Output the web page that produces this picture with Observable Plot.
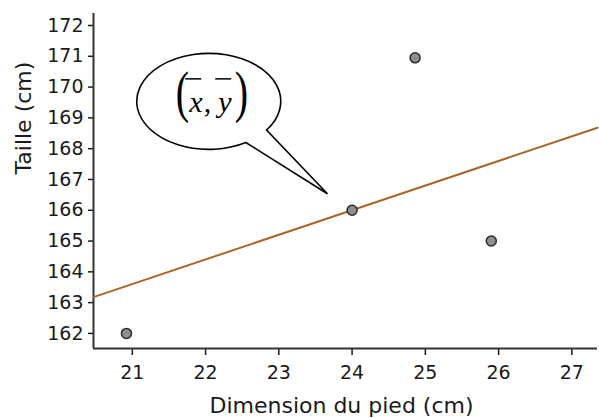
<!DOCTYPE html>
<html><head><meta charset="utf-8">
<script src="https://cdn.jsdelivr.net/npm/d3@7"></script>
<script src="https://cdn.jsdelivr.net/npm/@observablehq/plot@0.6"></script>
<style>
html,body{margin:0;padding:0;background:#fff;}
</style>
</head><body><div id="chart"></div>
<script>
// Data
const pied = [20.92, 24.0, 24.86, 25.9];          // Dimension du pied (cm)
const taille = [162, 166, 170.95, 165];            // Taille (cm)
const xTicks = [21, 22, 23, 24, 25, 26, 27];
const yTicks = [162, 163, 164, 165, 166, 167, 168, 169, 170, 171, 172];
const xDomain = [20.47, 27.35];
const yDomain = [161.51, 172.39];
const lineX = [20.47, 27.35];                      // droite d'ajustement (endpoints)
const lineY = [163.18, 168.68];
const bubbleCenter = {x: 22.05, y: 169.52};
const bubbleTip = {x: 23.67, y: 166.52};
const xTitle = "Dimension du pied (cm)";
const yTitle = "Taille (cm)";

const points = pied.map((x, i) => ({x, y: taille[i]}));
const fitLine = lineX.map((x, i) => ({x, y: lineY[i]}));

function bubble(index, scales) {
  const ns = "http://www.w3.org/2000/svg";
  const g = document.createElementNS(ns, "g");
  const cx = scales.x(bubbleCenter.x), cy = scales.y(bubbleCenter.y);
  const rx = 72, ry = 48;
  const a1 = 36.6 * Math.PI / 180, a2 = 59 * Math.PI / 180;
  const p1 = [cx + rx * Math.cos(a1), cy + ry * Math.sin(a1)];
  const p2 = [cx + rx * Math.cos(a2), cy + ry * Math.sin(a2)];
  const tx = scales.x(bubbleTip.x), ty = scales.y(bubbleTip.y);
  const path = document.createElementNS(ns, "path");
  path.setAttribute("d", `M${p2[0]},${p2[1]} A${rx},${ry} 0 1 1 ${p1[0]},${p1[1]} L${tx},${ty} Z`);
  path.setAttribute("fill", "#fff");
  path.setAttribute("stroke", "#000");
  path.setAttribute("stroke-width", "1.6");
  path.setAttribute("stroke-linejoin", "miter");
  g.appendChild(path);
  const addText = (str, dx, dy, size, italic, sy) => {
    const t = document.createElementNS(ns, "text");
    t.textContent = str;
    t.setAttribute("transform", `translate(${cx + dx},${cy + dy}) scale(1,${sy || 1})`);
    t.setAttribute("text-anchor", "start");
    t.setAttribute("font-family", "'Liberation Serif', 'DejaVu Serif', serif");
    t.setAttribute("font-size", size);
    if (italic) t.setAttribute("font-style", "italic");
    t.setAttribute("fill", "#000");
    g.appendChild(t);
  };
  addText("(", -33, 9.5, 40, false, 1.4);
  addText("x", -19.5, 10.5, 30, true);
  addText(",", -5, 10.5, 30, false);
  addText("y", 9.5, 10.5, 30, true);
  addText(")", 26, 9.5, 40, false, 1.4);
  const bar = (x1, x2) => {
    const l = document.createElementNS(ns, "line");
    l.setAttribute("x1", cx + x1); l.setAttribute("x2", cx + x2);
    l.setAttribute("y1", cy - 22.5); l.setAttribute("y2", cy - 22.5);
    l.setAttribute("stroke", "#000"); l.setAttribute("stroke-width", "1.5");
    g.appendChild(l);
  };
  bar(-23.5, -7.5);
  bar(6.5, 22.5);
  return g;
}

const chart = Plot.plot({
  width: 599,
  height: 418,
  marginLeft: 93,
  marginRight: 2,
  marginTop: 13,
  marginBottom: 70,
  style: {fontFamily: "'DejaVu Sans', sans-serif", fontSize: "19px", color: "#1a1a1a", background: "#fff"},
  x: {domain: xDomain},
  y: {domain: yDomain},
  marks: [
    Plot.axisY({ticks: yTicks, tickFormat: d => String(d), tickSize: 5, tickPadding: 5, fontSize: 19, label: null, strokeWidth: 1.5}),
    Plot.axisX({ticks: xTicks, tickFormat: d => String(d), tickSize: 7, tickPadding: 10, fontSize: 19, label: null, strokeWidth: 1.5}),
    Plot.ruleX([xDomain[0]], {stroke: "#333", strokeWidth: 2}),
    Plot.ruleY([yDomain[0]], {stroke: "#333", strokeWidth: 2}),
    Plot.line(fitLine, {x: "x", y: "y", stroke: "#a8662a", strokeWidth: 2}),
    Plot.dot(points, {x: "x", y: "y", r: 5, fill: "#8e8e8e", stroke: "#2a2a2a", strokeWidth: 1.5}),
    bubble,
    Plot.text([xTitle], {frameAnchor: "bottom", text: d => d, dy: 57, dx: -4, fontSize: 22, lineAnchor: "middle", fill: "#1a1a1a"}),
    Plot.text([yTitle], {frameAnchor: "left", text: d => d, rotate: -90, dx: -70, dy: -6.5, fontSize: 22, lineAnchor: "middle", fill: "#1a1a1a"})
  ]
});
document.getElementById("chart").appendChild(chart);
</script>
</body></html>
